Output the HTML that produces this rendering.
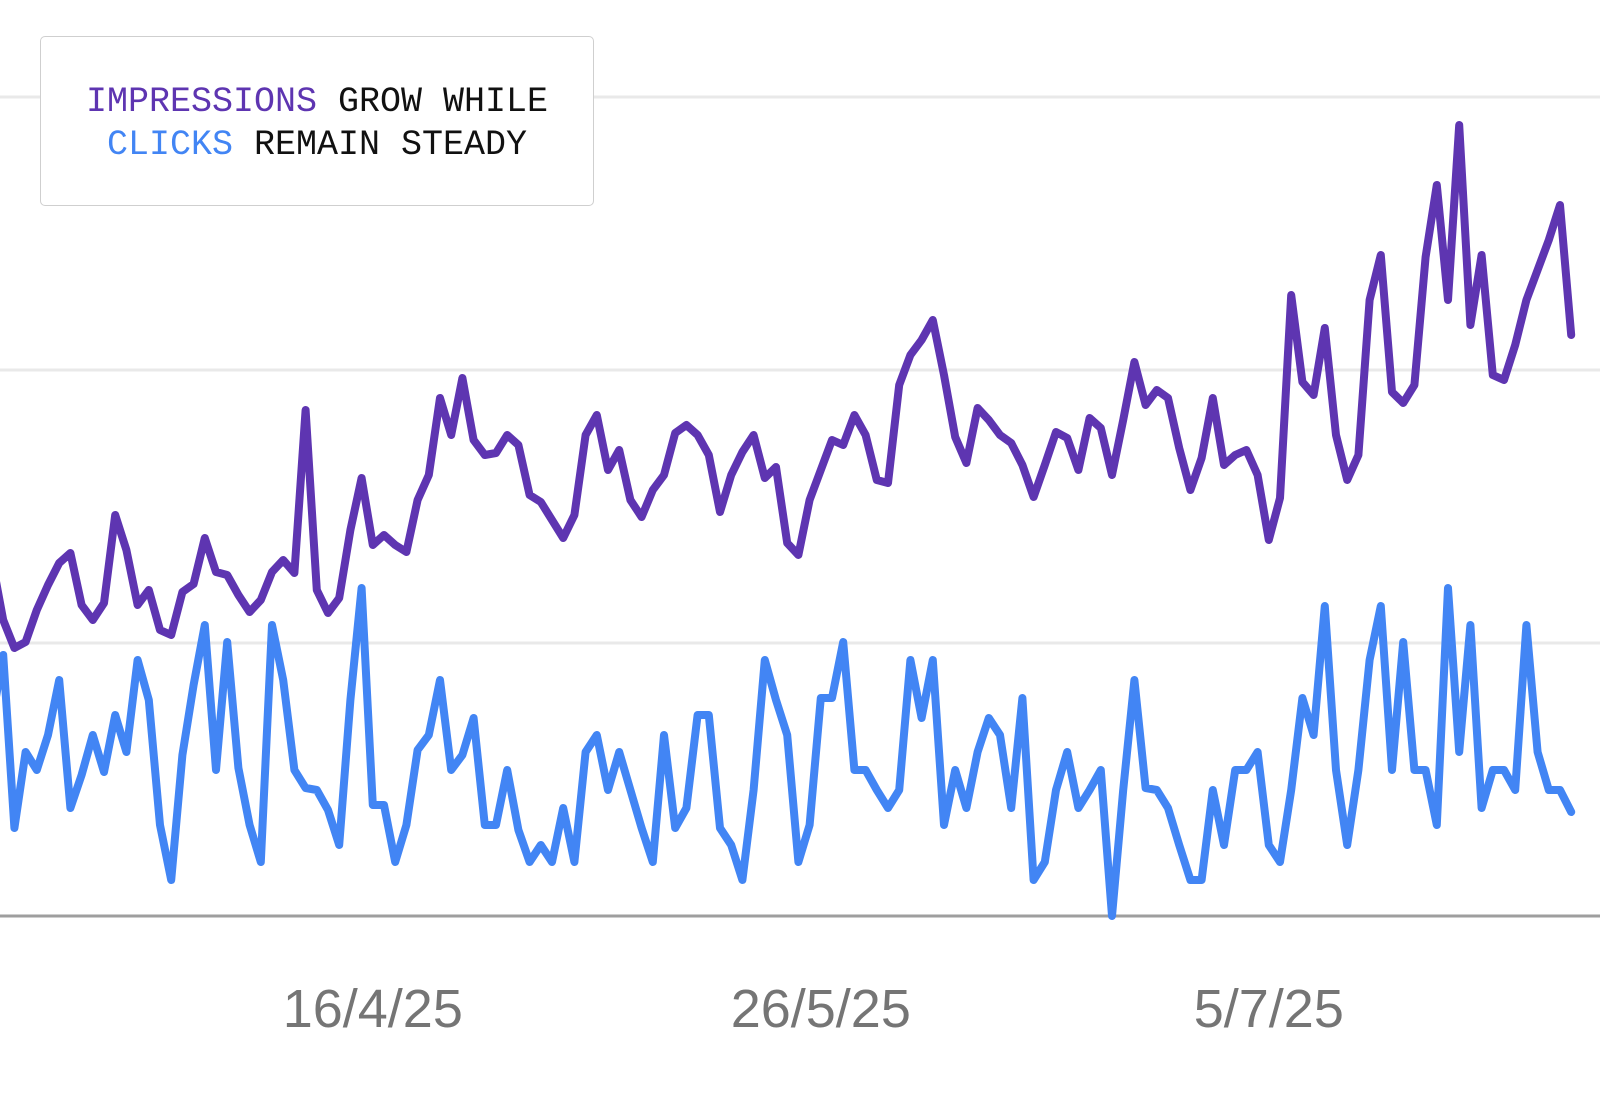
<!DOCTYPE html>
<html><head><meta charset="utf-8"><style>
html,body{margin:0;padding:0;background:#fff;}
#wrap{position:relative;width:1600px;height:1111px;overflow:hidden;}
#legend{position:absolute;left:40px;top:36px;width:554px;height:170px;border:1.5px solid #cfcfcf;border-radius:5px;background:#fff;font-family:"Liberation Mono",monospace;font-size:35px;line-height:43px;text-align:center;color:#111;box-sizing:border-box;padding-top:44px;}
</style></head><body>
<div id="wrap">
<svg id="chart" width="1600" height="1111"></svg>
<div id="legend"><span style="color:#5e35b1">IMPRESSIONS</span> GROW WHILE<br><span style="color:#4285f4">CLICKS</span> REMAIN STEADY</div>
</div>
<script>
const impressions=[356,296,268,274,306,331,353,363,311,296,313,401,366,311,326,286,281,324,332,378,344,341,321,304,316,344,356,343,506,326,303,318,386,438,371,381,371,364,416,441,518,481,538,476,461,463,481,471,421,414,396,378,401,481,501,446,466,416,399,426,441,483,491,481,461,404,441,464,481,438,449,373,361,416,446,476,471,501,481,436,433,531,561,576,596,541,479,453,508,496,481,473,451,419,451,484,478,446,498,488,441,496,554,511,526,518,468,426,458,518,451,461,466,441,376,418,621,534,521,588,481,436,461,616,661,524,513,531,659,731,616,791,591,661,541,536,571,616,646,676,711,581];
const clicks=[196,261,88,164,146,181,236,108,141,181,144,201,164,256,216,91,36,161,231,291,146,274,148,91,54,291,236,146,128,126,106,71,216,328,111,111,54,91,166,181,236,146,161,198,91,91,146,86,54,71,54,108,54,164,181,126,164,126,88,54,181,88,108,201,201,88,71,36,126,256,216,181,54,91,218,218,274,146,146,126,108,126,256,198,256,91,146,108,164,198,181,108,218,36,54,126,164,108,126,146,0,126,236,128,126,108,71,36,36,126,71,146,146,164,71,54,126,218,181,310,146,71,146,256,310,146,274,146,146,91,328,164,291,108,146,146,126,291,164,126,126,104];
const gridValues=[0,273,546,819];
const tickLabels=["6/3/25","16/4/25","26/5/25","5/7/25"];
const tickIndex=[-6,34,74,114];

const NS="http://www.w3.org/2000/svg";
const svg=document.getElementById('chart');
const X0=-8,STEP=11.2,BASE=916,PXV=1;
function xScale(i){return X0+i*STEP;}
function yScale(v){return BASE-v*PXV;}
function mk(t,a){const e=document.createElementNS(NS,t);for(const k in a)e.setAttribute(k,a[k]);svg.appendChild(e);return e;}

gridValues.forEach(function(v,k){
  const l=mk('line',{x1:0,x2:1600,y1:yScale(v),y2:yScale(v),stroke:k===0?'#9e9e9e':'#e9e9e9','stroke-width':3});
  
  
});
tickLabels.forEach(function(t,k){
  const tx=mk('text',{x:xScale(tickIndex[k]),y:1027,'text-anchor':'middle','font-family':'Liberation Sans, sans-serif','font-size':54,fill:'#757575'});
  tx.textContent=t;
  
  
});
function line(data,color,name){
  const d=data.map(function(v,i){return (i?'L':'M')+xScale(i).toFixed(1)+' '+yScale(v).toFixed(1);}).join(' ');
  const p=mk('path',{d:d,fill:'none',stroke:color,'stroke-width':8,'stroke-linejoin':'round','stroke-linecap':'round'});
  
  
}
line(clicks,'#4285f4','clicks-line');
line(impressions,'#5e35b1','impressions-line');
</script>
</body></html>
